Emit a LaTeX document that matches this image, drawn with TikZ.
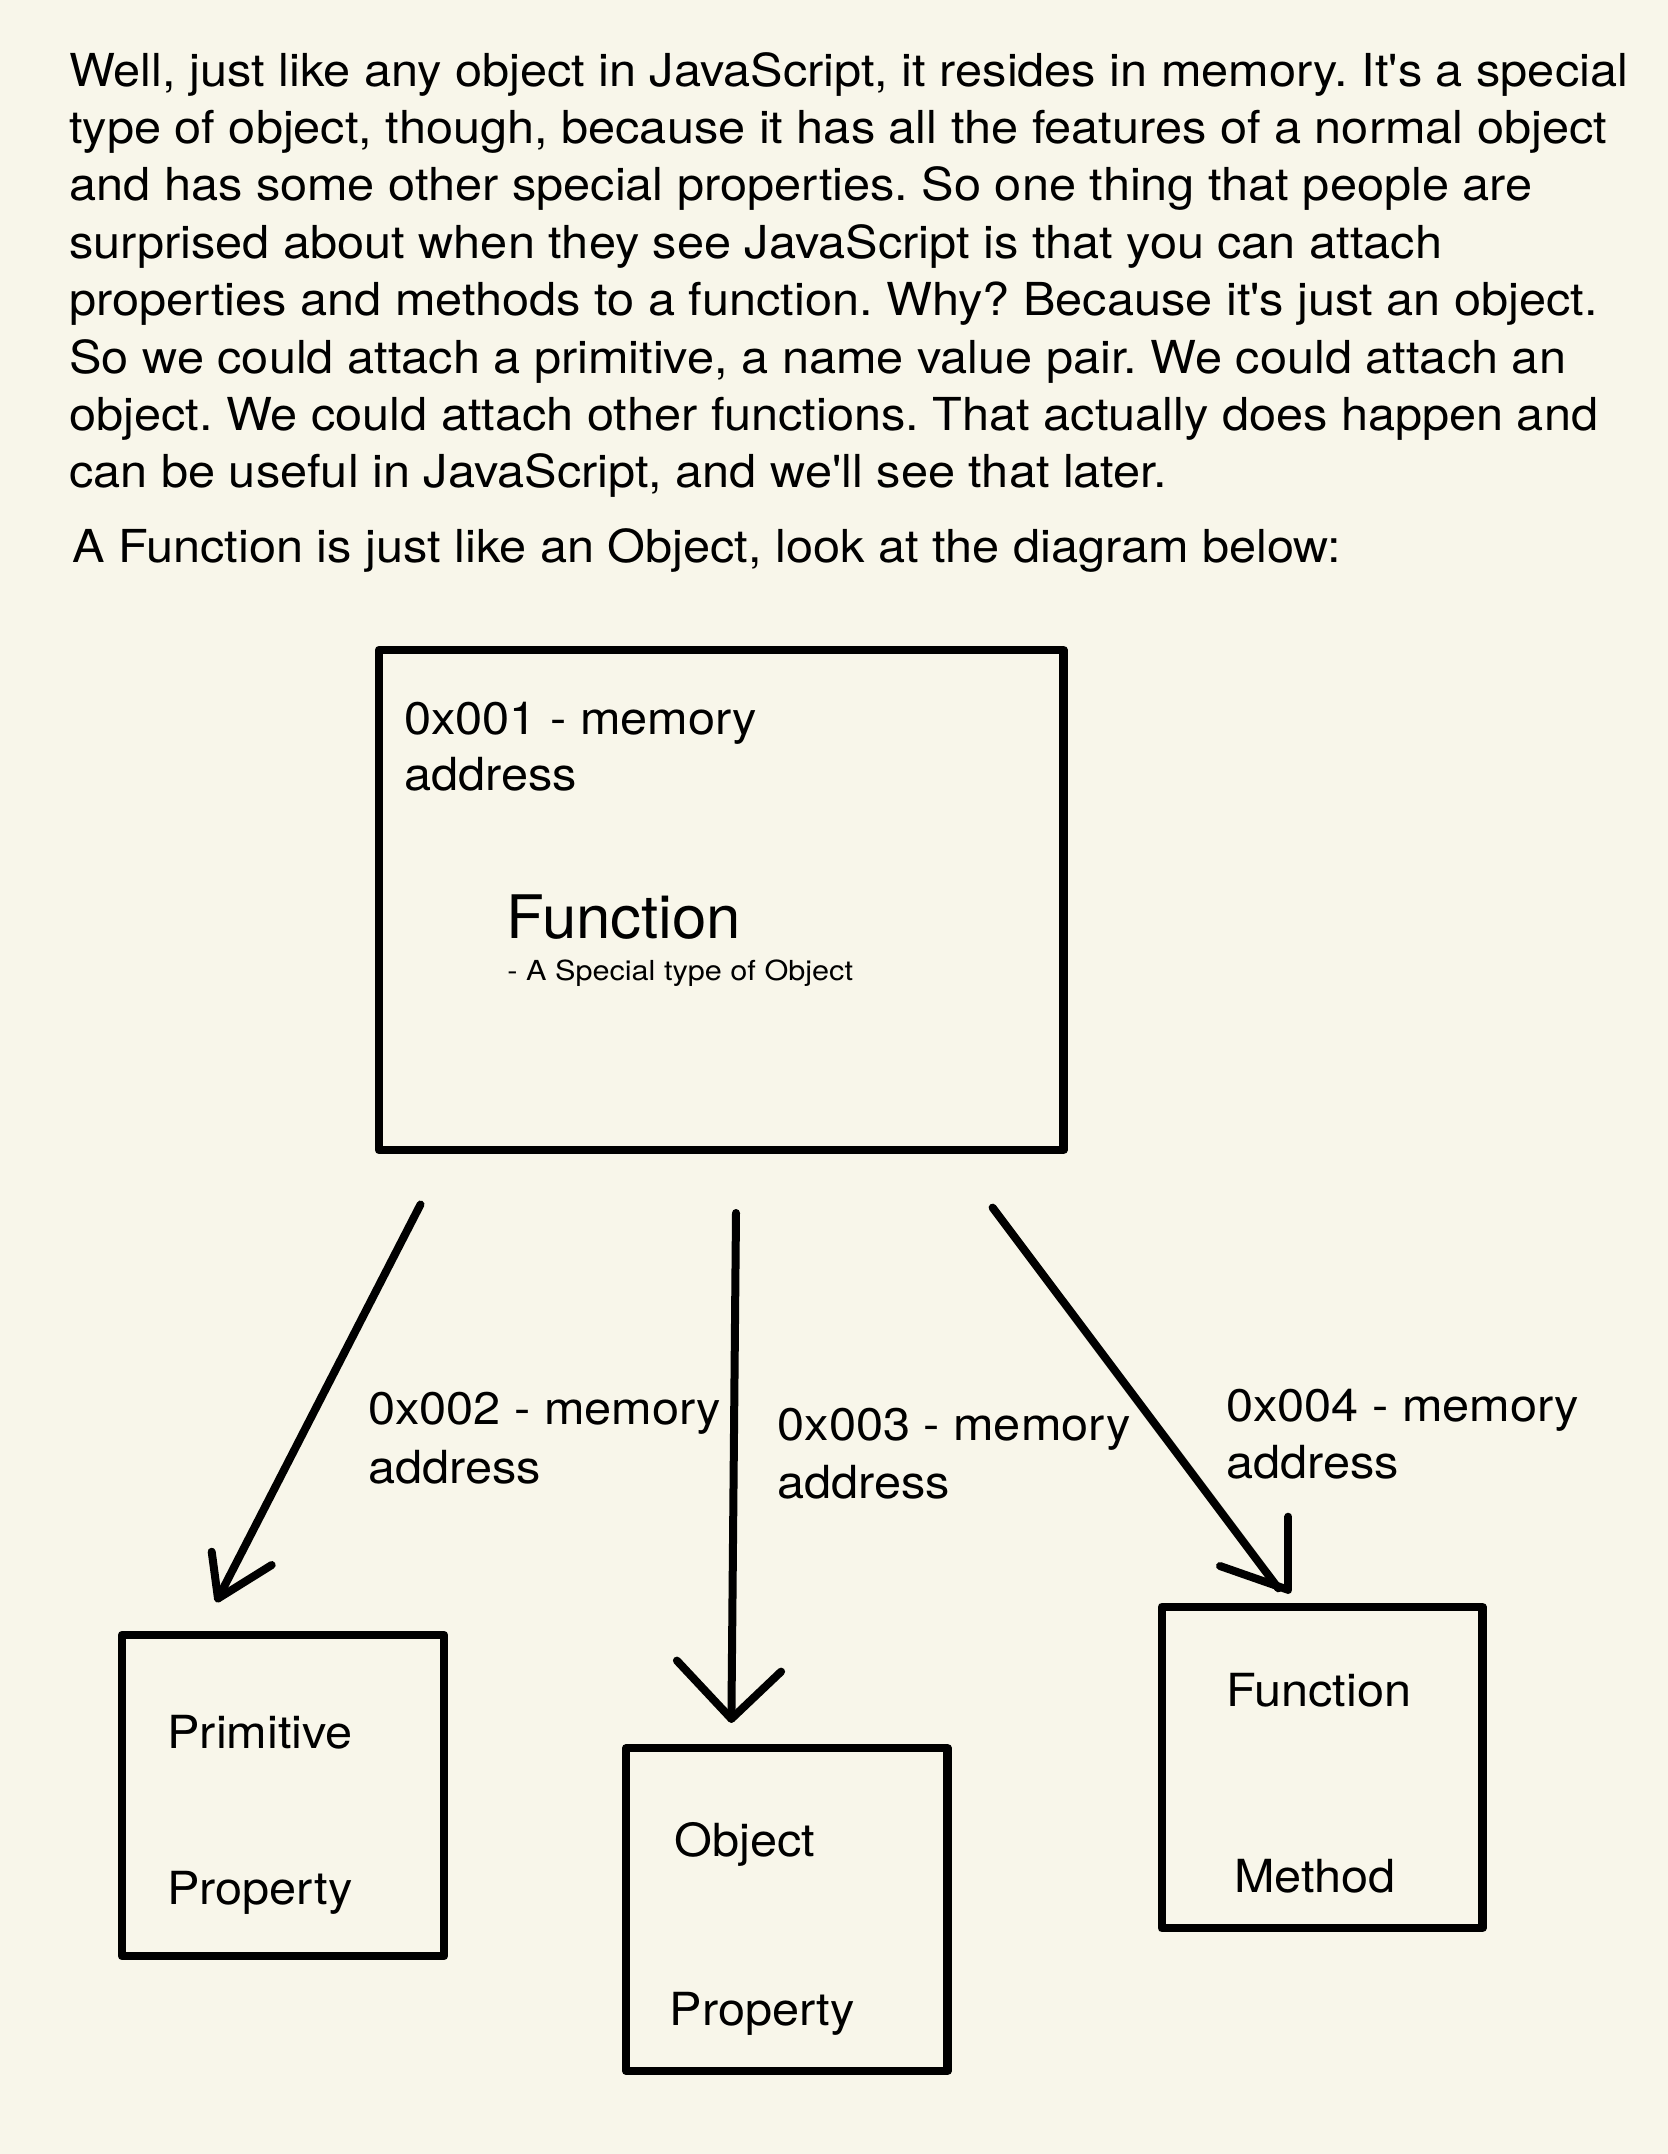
\documentclass[tikz,border=0pt]{standalone}
\usepackage{fontspec}
\newfontfamily\hvp{TeX Gyre Heros}[FakeStretch=1.072]
\newfontfamily\hvl{TeX Gyre Heros}[FakeStretch=1.067]
\newfontfamily\hvb{TeX Gyre Heros}[FakeStretch=1.03]
\newfontfamily\hvs{TeX Gyre Heros}[FakeStretch=1.11]
\definecolor{paper}{HTML}{F8F6EA}
\frenchspacing
\begin{document}
\frenchspacing
\begin{tikzpicture}[x=0.5pt,y=-0.5pt,
  para/.style={anchor=base west, inner sep=0pt, font=\hvp\fontsize{22.7pt}{28pt}\selectfont},
  lbl/.style={anchor=base west, inner sep=0pt, font=\hvl\fontsize{22.8pt}{28pt}\selectfont},
  box/.style={draw=black, line width=4.25pt, inner sep=0pt, line join=round},
  stroke/.style={draw=black, line width=4pt, line cap=round, line join=round}]
\fill[paper] (0,0) rectangle (1668,2154);
\useasboundingbox (0,0) rectangle (1668,2154);

% paragraph
\node[para] (l1) at (69,86) {Well, just like any object in JavaScript, it resides in memory. It's a special};
\node[para] (l2) at (69,143.4) {type of object, though, because it has all the features of a normal object};
\node[para] (l3) at (69,200.8) {and has some other special properties. So one thing that people are};
\node[para] (l4) at (69,258.2) {surprised about when they see JavaScript is that you can attach};
\node[para] (l5) at (69,315.6) {properties and methods to a function. Why? Because it's just an object.};
\node[para] (l6) at (69,373) {So we could attach a primitive, a name value pair. We could attach an};
\node[para] (l7) at (69,430.4) {object. We could attach other functions. That actually does happen and};
\node[para] (l8) at (69,487.8) {can be useful in JavaScript, and we'll see that later.};
\node[para] (l9) at (72,562.6) {A Function is just like an Object, look at the diagram below:};

% main box
\node[box, minimum width=342.25pt, minimum height=250pt] (main) at (721.25,900) {};
\node[lbl] (m1) at (404,734) {0x001 - memory};
\node[lbl] (m2) at (404,790) {address};
\node[anchor=base west, inner sep=0pt, font=\hvb\fontsize{30pt}{34pt}\selectfont] (mf) at (506,938.5) {Function};
\node[anchor=base west, inner sep=0pt, font=\hvs\fontsize{13.8pt}{16pt}\selectfont] (ms) at (507,980) {- A Special type of Object};

% child boxes
\node[box, minimum width=161pt, minimum height=160.5pt] (prim) at (283,1795.5) {};
\node[lbl] (p1) at (167,1748.2) {Primitive};
\node[lbl] (p2) at (167,1904.3) {Property};

\node[box, minimum width=160.7pt, minimum height=161.3pt] (obj) at (786.9,1909.5) {};
\node[lbl] (o1) at (674,1856.6) {Object};
\node[lbl] (o2) at (669.2,2025) {Property};

\node[box, minimum width=160.25pt, minimum height=160.7pt] (fun) at (1322.15,1767.5) {};
\node[lbl] (f1) at (1226,1706.5) {Function};
\node[lbl] (f2) at (1233.6,1892) {Method};

% labels of arrows
\node[lbl] (a1l1) at (367.9,1424.9) {0x002 - memory};
\node[lbl] (a1l2) at (367.9,1483) {address};
\node[lbl] (a2l1) at (777.3,1440.2) {0x003 - memory};
\node[lbl] (a2l2) at (777.3,1498.4) {address};
\node[lbl] (a3l1) at (1226,1421.8) {0x004 - memory};
\node[lbl] (a3l2) at (1226,1478.2) {address};

% arrow coordinates
\coordinate (a1s) at (420.5,1204.5);
\coordinate (a1t) at (218,1598.5);
\coordinate (a1b) at (211.7,1551.7);
\coordinate (a1c) at (271.7,1565);
\coordinate (a2s) at (736,1213);
\coordinate (a2t) at (731.4,1718.8);
\coordinate (a2b) at (676.9,1660.6);
\coordinate (a2c) at (781.1,1671.6);
\coordinate (a3s) at (992.6,1207.6);
\coordinate (a3t) at (1278.3,1588.3);
\coordinate (a3b) at (1288.3,1516.7);
\coordinate (a3e) at (1288.3,1590);
\coordinate (a3c) at (1220,1566);
\coordinate (a3f) at (1286.7,1589.3);

\draw[stroke] (a1s) -- (a1t);
\draw[stroke] (a1b) -- (a1t) -- (a1c);
\draw[stroke] (a2s) -- (a2t);
\draw[stroke] (a2b) -- (a2t) -- (a2c);
\draw[stroke] (a3s) -- (a3t);
\draw[stroke] (a3b) -- (a3e);
\draw[stroke] (a3c) -- (a3f);
\end{tikzpicture}
\end{document}
